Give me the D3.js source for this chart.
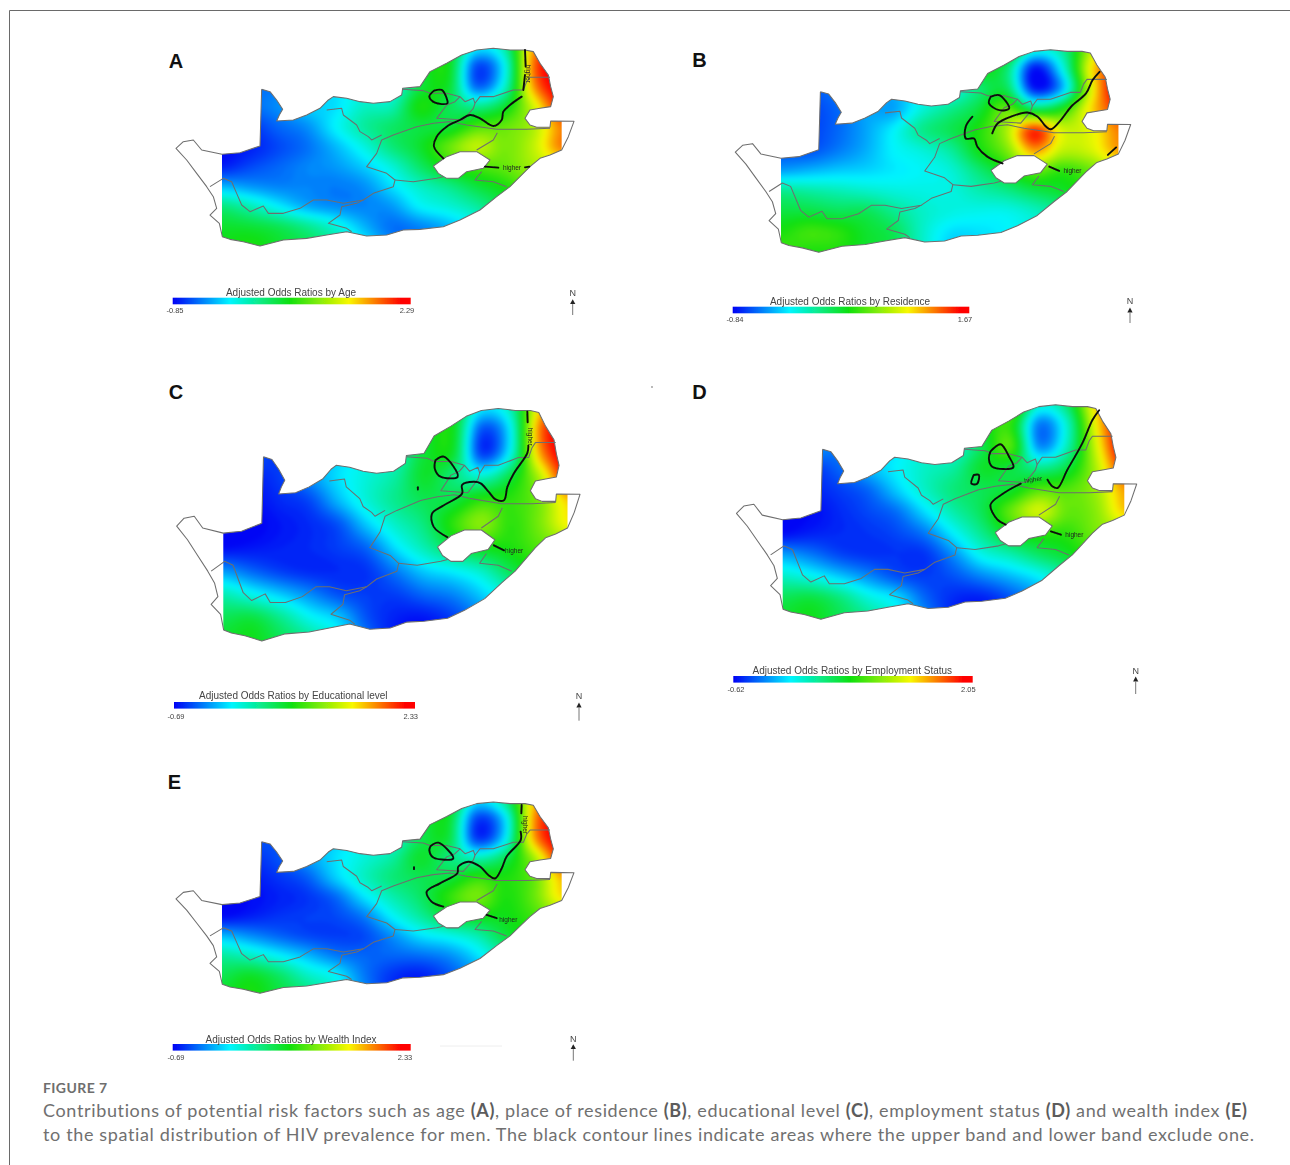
<!DOCTYPE html>
<html>
<head>
<meta charset="utf-8">
<script src="https://cdn.jsdelivr.net/npm/d3@7"></script>
<style>
  html, body { margin: 0; padding: 0; background: #fff; }
  svg { display: block; }
  .border { fill: none; stroke: #6e6e6e; stroke-width: 1.05; stroke-linejoin: round; }
  .contour { fill: none; stroke: #0c0c0c; stroke-width: 1.9; stroke-linejoin: round; stroke-linecap: round; }
  .legend-title { font-family: "Liberation Sans", Arial, sans-serif; font-size: 10px; fill: #444; text-anchor: middle; }
  .legend-tick { font-family: "Liberation Sans", Arial, sans-serif; font-size: 7.5px; fill: #444; text-anchor: middle; }
  .north { font-family: "Liberation Sans", Arial, sans-serif; font-size: 9px; fill: #444; text-anchor: middle; }
  .higher { font-family: "Liberation Sans", Arial, sans-serif; font-size: 6.5px; fill: #222; text-anchor: middle; }
  .letter { font-family: "Liberation Sans", Arial, sans-serif; font-size: 20px; font-weight: 700; fill: #111; text-anchor: middle; }
  .caption { font-family: Lato, "Open Sans", sans-serif; font-size: 18px; fill: #707070; font-variant-ligatures: none; }
  .caption tspan { font-weight: 700; fill: #5c5c5c; }
  .figure { font-family: Lato, "Open Sans", sans-serif; font-size: 14px; font-weight: 700; fill: #6e6e6e; }
</style>
</head>
<body>
<script>
var w = 1290, h = 1165;

// map frame: all geometry below is in one shared map unit, each panel rescales it
var colU = [186, 271, 356, 441, 526, 611, 696, 781, 866, 951, 1036, 1121, 1206];
var rowV = [20, 80, 140, 200, 260, 320, 380, 440, 500, 560, 620];

// surface, as % position along its colour bar (0 = blue end, 100 = red end)
var surfaceA = [
  [5, 8, 12, 16, 20, 26, 32, 42, 48, 24, 34, 82, 100],
  [5, 8, 12, 16, 20, 26, 32, 44, 48, 7, 26, 86, 100],
  [5, 10, 12, 18, 22, 26, 26, 44, 46, 10, 30, 82, 100],
  [5, 10, 14, 20, 22, 30, 32, 50, 42, 36, 46, 70, 95],
  [3, 5, 10, 14, 24, 34, 40, 44, 45, 55, 58, 66, 85],
  [1, 3, 7, 11, 18, 27, 38, 46, 58, 68, 60, 68, 85],
  [3, 7, 10, 13, 15, 20, 28, 40, 50, 55, 58, 65, 70],
  [18, 15, 13, 13, 12, 14, 22, 30, 36, 44, 50, 60, 66],
  [38, 32, 24, 17, 14, 13, 15, 24, 28, 34, 44, 56, 60],
  [46, 45, 42, 36, 28, 18, 11, 13, 18, 26, 38, 50, 55],
  [48, 50, 46, 42, 35, 25, 14, 12, 16, 24, 36, 48, 52]
];
var surfaceB = [
  [6, 8, 12, 16, 20, 26, 32, 45, 55, 30, 35, 66, 92],
  [6, 8, 12, 16, 20, 26, 30, 48, 40, 2, 26, 74, 94],
  [6, 8, 12, 16, 18, 24, 25, 38, 42, 3, 18, 70, 100],
  [3, 6, 10, 16, 16, 28, 36, 44, 58, 42, 50, 76, 92],
  [4, 6, 10, 16, 24, 36, 42, 50, 65, 92, 70, 72, 85],
  [8, 8, 12, 17, 24, 28, 34, 48, 60, 82, 68, 70, 82],
  [16, 18, 20, 21, 23, 25, 28, 38, 48, 58, 52, 58, 68],
  [36, 34, 32, 30, 28, 27, 27, 32, 36, 42, 46, 52, 60],
  [44, 44, 42, 42, 36, 30, 27, 26, 26, 30, 36, 46, 54],
  [50, 54, 52, 46, 42, 30, 22, 22, 24, 28, 34, 44, 50],
  [54, 50, 50, 46, 42, 30, 20, 22, 24, 28, 34, 44, 50]
];
var surfaceC = [
  [4, 6, 8, 14, 20, 26, 32, 42, 48, 24, 32, 76, 100],
  [4, 6, 8, 14, 20, 26, 32, 44, 48, 8, 24, 84, 100],
  [3, 8, 6, 14, 20, 26, 30, 45, 46, 6, 26, 80, 100],
  [1, 3, 6, 14, 22, 28, 34, 46, 38, 30, 44, 66, 95],
  [0, 1, 4, 7, 18, 28, 36, 42, 44, 52, 52, 60, 78],
  [0, 0, 2, 4, 8, 20, 30, 38, 52, 62, 52, 60, 74],
  [1, 2, 3, 4, 6, 10, 22, 32, 42, 48, 50, 56, 62],
  [15, 10, 6, 4, 4, 5, 12, 20, 24, 30, 42, 50, 55],
  [32, 26, 20, 14, 8, 6, 6, 10, 13, 20, 30, 44, 50],
  [42, 44, 36, 26, 20, 8, 3, 2, 6, 14, 26, 40, 46],
  [46, 48, 42, 36, 26, 12, 2, 1, 4, 12, 24, 38, 44]
];
var surfaceD = [
  [4, 8, 12, 18, 22, 28, 34, 48, 62, 30, 40, 78, 100],
  [4, 8, 12, 18, 22, 28, 34, 46, 52, 12, 30, 74, 100],
  [4, 14, 12, 18, 22, 28, 28, 42, 56, 14, 32, 70, 100],
  [2, 5, 10, 18, 24, 30, 34, 46, 44, 36, 44, 66, 92],
  [1, 3, 6, 10, 20, 30, 38, 42, 46, 56, 56, 64, 82],
  [1, 1, 4, 7, 11, 22, 33, 42, 58, 70, 58, 62, 78],
  [1, 3, 4, 5, 7, 12, 24, 36, 48, 52, 52, 60, 64],
  [16, 12, 7, 5, 5, 5, 14, 26, 32, 40, 46, 54, 58],
  [30, 26, 20, 14, 8, 6, 8, 13, 18, 24, 34, 46, 52],
  [42, 44, 38, 28, 22, 10, 4, 3, 8, 16, 28, 42, 48],
  [46, 48, 42, 36, 26, 14, 3, 2, 6, 14, 26, 40, 46]
];
var surfaceE = [
  [4, 6, 8, 14, 20, 26, 32, 42, 50, 22, 36, 78, 100],
  [4, 6, 8, 14, 20, 26, 32, 42, 46, 6, 22, 82, 100],
  [3, 8, 8, 14, 20, 26, 28, 42, 44, 6, 24, 80, 100],
  [1, 4, 8, 15, 22, 28, 34, 46, 38, 32, 42, 64, 94],
  [0, 2, 5, 9, 20, 30, 38, 42, 44, 52, 50, 58, 80],
  [0, 1, 3, 5, 10, 22, 32, 40, 52, 60, 50, 58, 76],
  [1, 3, 5, 6, 7, 12, 24, 34, 44, 48, 48, 54, 62],
  [18, 14, 10, 7, 6, 7, 14, 22, 26, 32, 44, 50, 56],
  [34, 30, 24, 18, 12, 10, 10, 11, 14, 22, 34, 44, 50],
  [42, 46, 40, 30, 24, 12, 5, 3, 8, 16, 28, 40, 46],
  [46, 50, 44, 38, 28, 14, 4, 2, 6, 14, 26, 38, 44]
];

// colour bar stops
var rampStops = [0, 24, 49, 74, 96, 100];
var rampColors = ["#0000f5", "#00f5ff", "#10e010", "#f8f800", "#ff0000", "#ff0000"];

// outlines in map units
var country = [[305,148],[330,155],[350,180],[368,208],[358,225],[350,243],[400,240],[440,225],[480,205],[505,180],[520,170],[560,175],[600,185],[640,190],[690,185],[725,165],[728,145],[780,140],[810,95],[860,70],[905,45],[950,30],[1000,25],[1050,30],[1095,30],[1120,35],[1140,70],[1165,105],[1172,140],[1180,170],[1172,200],[1140,205],[1110,210],[1095,235],[1110,255],[1130,262],[1170,262],[1172,243],[1242,244],[1225,290],[1205,330],[1170,345],[1140,355],[1110,380],[1080,410],[1050,440],[1010,470],[960,510],[900,540],[850,560],[780,568],[730,570],[680,585],[620,588],[560,575],[500,585],[440,595],[370,600],[300,618],[250,605],[210,598],[187,590],[178,550],[150,525],[170,505],[160,470],[140,440],[110,400],[80,360],[48,325],[70,305],[100,300],[125,330],[186,343],[240,338],[300,318],[305,148]];
var lesotho = [[820,378],[860,350],[900,335],[950,335],[990,360],[970,385],[920,395],[895,415],[860,415],[835,400],[820,378]];
var provinces = [
  [[150,440],[190,415],[215,425],[230,460],[245,495],[270,515],[310,498],[325,520],[370,520],[420,505],[460,480],[500,480],[550,490],[610,480],[640,460],[700,440],[705,420],[680,400],[620,380],[650,340],[665,300],[700,285],[770,260],[820,250],[870,245],[920,255],[1010,268],[1100,268],[1170,265]],
  [[610,480],[590,490],[545,500],[540,525],[505,550],[560,565],[575,575]],
  [[500,210],[545,205],[550,225],[590,255],[600,275],[625,290],[635,300],[665,285]],
  [[728,148],[790,152],[810,160],[860,160],[900,170],[915,185],[940,175],[945,190],[960,170],[1000,170],[1060,150],[1090,150],[1100,125],[1110,112],[1170,112]],
  [[900,170],[885,185],[860,195],[830,235],[910,240],[940,205],[945,190]],
  [[1012,278],[1000,300],[950,330]],
  [[705,420],[760,425],[830,415],[850,410]],
  [[965,395],[945,420],[1000,425],[1040,440]]
];

// black contour lines, one list per panel
var contoursA = [
  [[822,152],[845,150],[860,175],[862,190],[825,188],[808,170],[822,152]],
  [[1095,30],[1097,80]],
  [[1095,105],[1090,150]],
  [[1085,170],[1050,195],[1030,215],[1025,240],[1000,258],[960,235],[930,225],[900,240],[860,260],[830,290],[822,320],[850,355]],
  [[975,380],[1015,383]],
  [[1095,382],[1108,380]]
];
var contoursB = [
  [[819,163],[845,158],[875,197],[845,202],[814,182],[819,163]],
  [[1148,90],[1127,114],[1107,153],[1062,192],[1031,231],[1001,258],[986,250],[961,221],[930,209],[880,221],[840,241],[824,270]],
  [[764,221],[744,250],[744,285],[769,285],[779,309],[809,338],[855,358]],
  [[996,367],[1026,380]],
  [[1173,333],[1198,311]]
];
var contoursC = [
  [[814,157],[839,148],[880,199],[829,199],[812,178],[814,157]],
  [[1086,33],[1087,60]],
  [[1089,120],[1086,139],[1046,191],[1027,225],[1017,259],[992,257],[972,238],[948,216],[928,212],[893,220],[893,242],[839,272],[804,293],[809,327],[849,353]],
  [[762,226],[762,232]],
  [[987,374],[1017,387]]
];
var contoursD = [
  [[806,154],[836,134],[861,168],[874,198],[811,196],[801,173],[806,154]],
  [[756,219],[771,219],[766,243],[749,243],[756,219]],
  [[1130,40],[1110,67],[1080,131],[1035,205],[1006,255],[990,250],[976,232]],
  [[896,243],[846,269],[806,301],[826,342],[851,356]],
  [[986,375],[1016,384]]
];
var contoursE = [
  [[812,161],[835,151],[880,200],[820,197],[808,174],[812,161]],
  [[1085,34],[1084,60]],
  [[1082,117],[1082,143],[1040,194],[1025,231],[1005,262],[985,251],[960,225],[925,210],[895,225],[892,246],[840,277],[800,303],[815,334],[850,349]],
  [[762,227],[762,233]],
  [[980,375],[1010,385]]
];

// "higher" labels on the contours: u, v, rotation
var higherA = [[1056,384,0],[1097,95,90]];
var higherB = [[1066,380,0]];
var higherC = [[1047,388,0],[1088,92,90]];
var higherD = [[1056,386,0],[934,232,-8]];
var higherE = [[1045,390,0],[1088,90,90]];

var letters = ["A", "B", "C", "D", "E"];
var legendTitles = ["Adjusted Odds Ratios by Age", "Adjusted Odds Ratios by Residence", "Adjusted Odds Ratios by Educational level", "Adjusted Odds Ratios by Employment Status", "Adjusted Odds Ratios by Wealth Index"];
var legendMin = [-0.85, -0.84, -0.69, -0.62, -0.69];
var legendMax = [2.29, 1.67, 2.33, 2.05, 2.33];

var captionHead = "FIGURE 7";
var captionLine1 = [["Contributions of potential risk factors such as age ",0],["(A)",1],[", place of residence ",0],["(B)",1],[", educational level ",0],["(C)",1],[", employment status ",0],["(D)",1],[" and wealth index ",0],["(E)",1]];
var captionLine2 = "to the spatial distribution of HIV prevalence for men. The black contour lines indicate areas where the upper band and lower band exclude one.";

// panel placement in page pixels
var layout = [
  {surface: surfaceA, contours: contoursA, higher: higherA, x: [222, 574], y: [89.3, 246.7], letter: [176, 67.5], bar: [172.7, 410.7, 297.7], title: [291, 296], lab: [175, 407, 313], north: [572.7, 295.5, 301.7, 315]},
  {surface: surfaceB, contours: contoursB, higher: higherB, x: [781, 1130.7], y: [91.7, 253], letter: [699.5, 67], bar: [732.7, 969.3, 306.7], title: [850, 304.5], lab: [735, 965, 321.5], north: [1130, 304, 310, 323]},
  {surface: surfaceC, contours: contoursC, higher: higherC, x: [223.3, 580], y: [456.7, 641.7], letter: [176, 399], bar: [174, 415, 702], title: [293.3, 699], lab: [176, 410.7, 719], north: [579, 698.5, 705, 720.7]},
  {surface: surfaceD, contours: contoursD, higher: higherD, x: [782.7, 1136.7], y: [449.3, 620], letter: [699.5, 399], bar: [733.3, 972.7, 676], title: [852.3, 673.5], lab: [736, 968.3, 692], north: [1135.7, 673.5, 679, 694]},
  {surface: surfaceE, contours: contoursE, higher: higherE, x: [222, 574], y: [841.7, 994], letter: [174.5, 789], bar: [172.7, 410.7, 1044], title: [291, 1042.5], lab: [176, 405, 1059.5], north: [573.3, 1041.5, 1046.7, 1060.7]}
];

var svg = d3.select("body").append("svg")
    .attr("width", w)
    .attr("height", h);

var defs = svg.append("defs");

// the source figure is a soft raster, keep that softness on the map linework
defs.append("filter").attr("id", "soft")
    .attr("x", "-5%").attr("y", "-5%").attr("width", "110%").attr("height", "110%")
  .append("feGaussianBlur").attr("stdDeviation", 0.45);

// and smooth out the coarse read-off surface
defs.append("filter").attr("id", "heatSoft")
    .attr("filterUnits", "userSpaceOnUse")
    .attr("x", 0).attr("y", 0).attr("width", w).attr("height", h)
    .attr("color-interpolation-filters", "sRGB")
  .append("feGaussianBlur").attr("stdDeviation", 2.6);

var grad = defs.append("linearGradient").attr("id", "ramp");
rampStops.forEach(function(s, i) {
  grad.append("stop").attr("offset", s + "%").attr("stop-color", rampColors[i]);
});

var color = d3.scaleLinear().domain(rampStops).range(rampColors).clamp(true);

// page frame
svg.append("path")
    .attr("d", "M9.5," + h + "V10.5H" + w)
    .attr("fill", "none")
    .attr("stroke", "#6a6a6a");

// specks in the source scan
svg.append("circle").attr("cx", 652).attr("cy", 387).attr("r", 0.9).attr("fill", "#999");
svg.append("line").attr("x1", 440).attr("x2", 502).attr("y1", 1046).attr("y2", 1046).attr("stroke", "#eeeeee");

// Catmull-Rom resample of the read-off surface so the contours come out smooth
function cr(p0, p1, p2, p3, t) {
  return 0.5 * ((2 * p1) + (p2 - p0) * t + (2 * p0 - 5 * p1 + 4 * p2 - p3) * t * t + (3 * p1 - p0 - 3 * p2 + p3) * t * t * t);
}
var fine = 8;
function resample(g) {
  // one extra row/column of edge values all round, so the blur has something to eat at the rim
  var pad = [g[0]].concat(g, [g[g.length - 1]]).map(function(r) {
    return [r[0]].concat(r, [r[r.length - 1]]);
  });
  var nr = pad.length, nc = pad[0].length;
  var W = (nc - 1) * fine + 1, H = (nr - 1) * fine + 1, out = new Array(W * H);
  function at(r, c) { return pad[Math.max(0, Math.min(nr - 1, r))][Math.max(0, Math.min(nc - 1, c))]; }
  for (var j = 0; j < H; j++) {
    var r = Math.floor(j / fine), tr = j / fine - r;
    for (var i = 0; i < W; i++) {
      var c = Math.floor(i / fine), tc = i / fine - c;
      var col = [-1, 0, 1, 2].map(function(d) {
        return cr(at(r + d, c - 1), at(r + d, c), at(r + d, c + 1), at(r + d, c + 2), tc);
      });
      out[j * W + i] = Math.max(0, Math.min(100, cr(col[0], col[1], col[2], col[3], tr)));
    }
  }
  return {values: out, width: W, height: H};
}

var thresholds = d3.range(0, 100.1, 1);

layout.forEach(function(p, idx) {
  var x = d3.scaleLinear().domain([186, 1242]).range(p.x);
  var y = d3.scaleLinear().domain([148, 620]).range(p.y);
  var line = d3.line().x(function(d) { return x(d[0]); }).y(function(d) { return y(d[1]); });
  var smooth = d3.line().curve(d3.curveCatmullRom).x(function(d) { return x(d[0]); }).y(function(d) { return y(d[1]); });

  // clip: country minus Lesotho, cut at the edges of the interpolated raster
  defs.append("clipPath").attr("id", "land" + idx)
    .append("path")
      .attr("clip-rule", "evenodd")
      .attr("d", line(country) + "Z" + line(lesotho) + "Z");
  defs.append("clipPath").attr("id", "rast" + idx)
    .append("rect")
      .attr("x", x(186))
      .attr("y", y(0))
      .attr("width", x(1205) - x(186))
      .attr("height", y(640) - y(0));

  var g = svg.append("g").attr("class", "panel");

  var f = resample(p.surface);
  var stepU = colU[1] - colU[0], stepV = rowV[1] - rowV[0];
  var gridX = d3.scaleLinear().domain([0, f.width - 1]).range([x(colU[0] - stepU), x(colU[colU.length - 1] + stepU)]);
  var gridY = d3.scaleLinear().domain([0, f.height - 1]).range([y(rowV[0] - stepV), y(rowV[rowV.length - 1] + stepV)]);
  var geo = d3.geoPath(d3.geoTransform({
    point: function(a, b) { this.stream.point(gridX(a - 0.5), gridY(b - 0.5)); }
  }));

  var heat = g.append("g").attr("clip-path", "url(#rast" + idx + ")")
    .append("g").attr("clip-path", "url(#land" + idx + ")")
    .append("g").attr("filter", "url(#heatSoft)");

  heat.selectAll("path")
      .data(d3.contours().size([f.width, f.height]).thresholds(thresholds)(f.values))
    .enter().append("path")
      .attr("d", geo)
      .attr("fill", function(d) { return color(d.value + 0.5); });

  var ink = g.append("g").attr("filter", "url(#soft)");

  ink.append("path").attr("class", "border").attr("d", line(country));
  ink.append("path").attr("class", "border").attr("d", line(lesotho));
  ink.selectAll(".prov")
      .data(provinces)
    .enter().append("path")
      .attr("class", "border prov")
      .attr("d", line);

  ink.selectAll(".contour")
      .data(p.contours)
    .enter().append("path")
      .attr("class", "contour")
      .attr("d", smooth);

  ink.selectAll(".higher")
      .data(p.higher)
    .enter().append("text")
      .attr("class", "higher")
      .attr("transform", function(d) { return "translate(" + x(d[0]) + "," + (y(d[1]) + 2) + ") rotate(" + d[2] + ")"; })
      .text("higher");

  // panel letter
  g.append("text").attr("class", "letter")
      .attr("x", p.letter[0]).attr("y", p.letter[1])
      .text(letters[idx]);

  // colour bar legend
  var legendX = d3.scaleLinear().domain([legendMin[idx], legendMax[idx]]).range([p.bar[0], p.bar[1]]);
  var lg = g.append("g").attr("filter", "url(#soft)");
  lg.append("rect")
      .attr("x", legendX(legendMin[idx]))
      .attr("y", p.bar[2])
      .attr("width", legendX(legendMax[idx]) - legendX(legendMin[idx]))
      .attr("height", 6.6)
      .attr("fill", "url(#ramp)");
  lg.append("text").attr("class", "legend-title")
      .attr("x", p.title[0]).attr("y", p.title[1])
      .text(legendTitles[idx]);
  lg.append("text").attr("class", "legend-tick")
      .attr("x", p.lab[0]).attr("y", p.lab[2])
      .text(legendMin[idx].toFixed(2));
  lg.append("text").attr("class", "legend-tick")
      .attr("x", p.lab[1]).attr("y", p.lab[2])
      .text(legendMax[idx].toFixed(2));

  // north arrow
  var nx = p.north[0];
  lg.append("text").attr("class", "north").attr("x", nx).attr("y", p.north[1]).text("N");
  lg.append("path")
      .attr("d", d3.line()([[nx - 2.6, p.north[2] + 2.4], [nx, p.north[2] - 2.4], [nx + 2.6, p.north[2] + 2.4]]) + "Z")
      .attr("fill", "#222");
  lg.append("line")
      .attr("x1", nx).attr("x2", nx)
      .attr("y1", p.north[2] + 2.4).attr("y2", p.north[3])
      .attr("stroke", "#777").attr("stroke-width", 1);
});

// caption
svg.append("text").attr("class", "figure")
    .attr("x", 43).attr("y", 1092.5)
    .attr("textLength", 64).attr("lengthAdjust", "spacing")
    .text(captionHead);

var cap1 = svg.append("text").attr("class", "caption")
    .attr("x", 43).attr("y", 1117)
    .attr("textLength", 1204).attr("lengthAdjust", "spacing");
cap1.selectAll("tspan")
    .data(captionLine1)
  .enter().append("tspan")
    .attr("style", function(d) { return d[1] ? null : "font-weight:400;fill:#707070"; })
    .text(function(d) { return d[0]; });

svg.append("text").attr("class", "caption")
    .attr("x", 43).attr("y", 1141)
    .attr("textLength", 1211).attr("lengthAdjust", "spacing")
    .text(captionLine2);
</script>
</body>
</html>
